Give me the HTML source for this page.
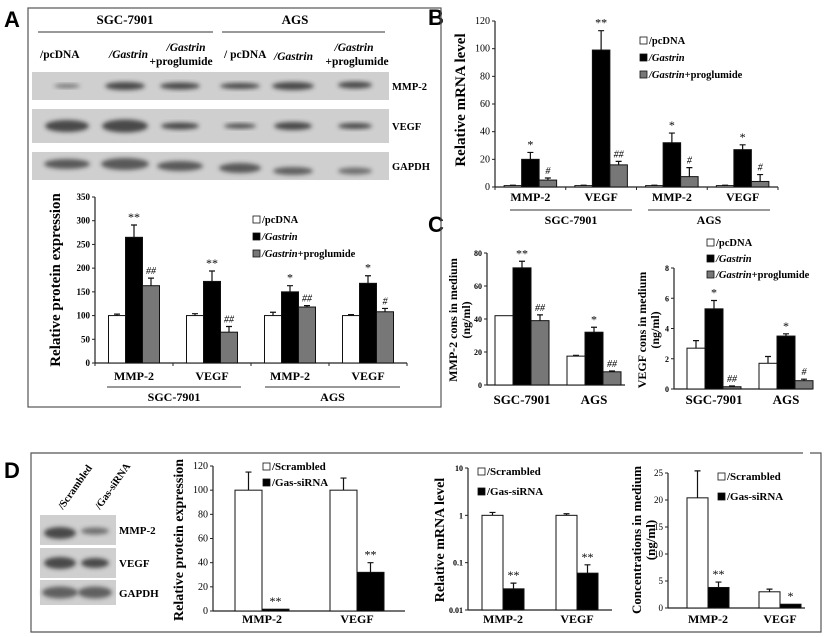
<!DOCTYPE html>
<html><head><meta charset="utf-8">
<style>
html,body{margin:0;padding:0;background:#fff;}
svg{display:block;font-family:"Liberation Serif",serif;font-weight:bold;}
</style></head>
<body>
<svg id="fig" width="825" height="637" viewBox="0 0 825 637" xmlns="http://www.w3.org/2000/svg">
<defs>
<filter id="blur" x="-20%" y="-50%" width="140%" height="200%"><feGaussianBlur stdDeviation="2"/></filter>
</defs>
<text x="4" y="27" font-family="Liberation Sans" font-size="22" font-weight="bold">A</text>
<text x="428" y="25" font-family="Liberation Sans" font-size="22" font-weight="bold">B</text>
<text x="428" y="232" font-family="Liberation Sans" font-size="22" font-weight="bold">C</text>
<text x="4" y="478" font-family="Liberation Sans" font-size="22" font-weight="bold">D</text>
<rect x="28" y="8" width="413" height="399" fill="none" stroke="#555" stroke-width="1.2"/>
<path d="M803 453 H31 V632 H821 V453 H810" fill="none" stroke="#555" stroke-width="1.2"/>
<g id="blots"></g>
<g id="charts"></g>
</svg>
<script>
// ---------- DATA ----------
const aCategories = ["MMP-2","VEGF","MMP-2","VEGF"];
const aPcdna = [100,100,100,100];
const aPcdnaErr = [3,4,7,2];
const aGastrin = [265,172,150,168];
const aGastrinErr = [26,22,13,16];
const aProg = [163,65,118,108];
const aProgErr = [16,12,3,7];
const aGastrinMarks = ["**","**","*","*"];
const aProgMarks = ["##","##","##","#"];
const aTicks = [0,50,100,150,200,250,300,350];

const bCategories = ["MMP-2","VEGF","MMP-2","VEGF"];
const bPcdna = [1,1,1,1];
const bPcdnaErr = [0.3,0.3,0.3,0.3];
const bGastrin = [20,99,32,27];
const bGastrinErr = [5,14,7,3.5];
const bProg = [5,16,7.5,4];
const bProgErr = [1.5,2.5,6.5,5];
const bGastrinMarks = ["*","**","*","*"];
const bProgMarks = ["#","##","#","#"];
const bTicks = [0,20,40,60,80,100,120];

const c1Categories = ["SGC-7901","AGS"];
const c1Pcdna = [42,17.5];
const c1PcdnaErr = [0,0.5];
const c1Gastrin = [71,32];
const c1GastrinErr = [4,3];
const c1Prog = [39,8];
const c1ProgErr = [3.5,0.5];
const c1GastrinMarks = ["**","*"];
const c1ProgMarks = ["##","##"];
const c1Ticks = [0,20,40,60,80];

const c2Categories = ["SGC-7901","AGS"];
const c2Pcdna = [2.7,1.7];
const c2PcdnaErr = [0.5,0.45];
const c2Gastrin = [5.3,3.5];
const c2GastrinErr = [0.55,0.15];
const c2Prog = [0.15,0.55];
const c2ProgErr = [0.05,0.1];
const c2GastrinMarks = ["*","*"];
const c2ProgMarks = ["##","#"];
const c2Ticks = [0,2,4,6,8];

const d1Categories = ["MMP-2","VEGF"];
const d1Scr = [100,100];
const d1ScrErr = [15,10];
const d1Si = [1.5,32];
const d1SiErr = [0,8];
const d1SiMarks = ["**","**"];
const d1Ticks = [0,20,40,60,80,100,120];

const d2Categories = ["MMP-2","VEGF"];
const d2Scr = [1,1];
const d2ScrErr = [0.15,0.08];
const d2Si = [0.028,0.06];
const d2SiErr = [0.009,0.03];
const d2SiMarks = ["**","**"];
const d2Ticks = [0.01,0.1,1,10];
const d2TickLabels = ["0.01","0.1","1","10"];

const d3Categories = ["MMP-2","VEGF"];
const d3Scr = [20.4,3];
const d3ScrErr = [5,0.5];
const d3Si = [3.8,0.7];
const d3SiErr = [1,0];
const d3SiMarks = ["**","*"];
const d3Ticks = [0,5,10,15,20,25];

// ---------- HELPERS ----------
const NS = "http://www.w3.org/2000/svg";
const charts = document.getElementById("charts");
const blots = document.getElementById("blots");
function mk(parent, tag, attrs, text){
  const e = document.createElementNS(NS, tag);
  for (const k in attrs) e.setAttribute(k, attrs[k]);
  if (text !== undefined) e.textContent = text;
  parent.appendChild(e);
  return e;
}
function txt(parent, x, y, s, size, anchor, name, extra){
  const t = mk(parent, "text", Object.assign({x:x, y:y, "font-size":size, "text-anchor":anchor||"start"}, extra||{}), s);
  
  
  return t;
}

function barChart(c){
  const g = mk(charts, "g", {});
  
  
  const yScale = c.log
    ? v => c.y0 - (Math.log10(v) - Math.log10(c.yMin)) / (Math.log10(c.yMax) - Math.log10(c.yMin)) * (c.y0 - c.yTop)
    : v => c.y0 - v / c.yMax * (c.y0 - c.yTop);
  const xBand = i => c.bandStart + c.bandStep * (i + 0.5);
  const ya = mk(g, "line", {x1:c.ax, y1:c.yTop, x2:c.ax, y2:c.y0, stroke:"#222", "stroke-width":1.2});
  
  
  const xa = mk(g, "line", {x1:c.ax, y1:c.y0, x2:c.axEnd, y2:c.y0, stroke:"#222", "stroke-width":1.2});
  
  
  c.ticks.forEach((t, i) => {
    const y = yScale(t);
    const tk = mk(g, "line", {x1:c.ax-3, y1:y, x2:c.ax, y2:y, stroke:"#222", "stroke-width":1});
    
    
    txt(g, c.ax-5, y+3, c.tickLabels ? c.tickLabels[i] : String(t), c.tickSize||9, "end", "y-tick-label", {"font-weight": c.tickBold===false?"normal":"bold"});
  });
  if (c.xTicks){
    for (let i=0;i<=c.cats.length;i++){
      const x = c.bandStart + c.bandStep*i;
      const tk = mk(g,"line",{x1:x,y1:c.y0,x2:x,y2:c.y0+3,stroke:"#222","stroke-width":1});
      
      
    }
  }
  const nS = c.series.length;
  c.cats.forEach((cat, i) => {
    const cx = xBand(i);
    const start = cx - c.barW * nS / 2;
    c.series.forEach((s, j) => {
      const v = s.values[i];
      const x = start + j * c.barW;
      const yv = yScale(v);
      const base = c.y0;
      const r = mk(g, "rect", {x:x, y:yv, width:c.barW, height:Math.max(0, base-yv), fill:s.fill, stroke:"#111", "stroke-width":1});
      
      
      const e = s.errs[i];
      if (e > 0){
        const ye = yScale(v + e);
        const el = mk(g, "path", {d:`M${x+c.barW/2} ${yv} V${ye} M${x+c.barW/2-3} ${ye} H${x+c.barW/2+3}`, stroke:"#111", "stroke-width":1.2, fill:"none"});
        
        
      }
      if (s.marks && s.marks[i]){
        const ye = yScale(v + e);
        txt(g, x+c.barW/2, ye-4, s.marks[i], s.marks[i].indexOf("#")>=0?10:12, "middle", "significance-mark", {"font-weight":"normal","font-style":s.marks[i].indexOf("#")>=0?"italic":"normal"});
      }
    });
    txt(g, cx, c.catY, cat, c.catSize||12, "middle", "category-label");
  });
  c.yTitle.forEach((line, k) => {
    txt(g, c.yTitleX + k*(c.yTitleSize+1), c.yTitleY, line, c.yTitleSize, "middle", "y-axis-title", {transform:`rotate(-90 ${c.yTitleX + k*(c.yTitleSize+1)} ${c.yTitleY})`});
  });
  if (c.legend){
    c.legend.forEach((L, k) => {
      const y = c.legend.y0 + k*c.legend.dy;
      const sq = mk(g, "rect", {x:c.legend.x, y:y-7, width:7, height:7, fill:L.fill, stroke:"#111", "stroke-width":0.8});
      
      
      const t = mk(g, "text", {x:c.legend.x+9, y:y, "font-size":c.legend.size||10.5});
      
      
      L.parts.forEach(p => { mk(t, "tspan", p.it?{"font-style":"italic"}:{}, p.s); });
    });
  }
  return g;
}

const WHITE="#fff", BLACK="#000", GRAY="#777";
const legend3 = [
  {fill:WHITE, parts:[{s:"/pcDNA"}]},
  {fill:BLACK, parts:[{s:"/Gastrin",it:true}]},
  {fill:GRAY, parts:[{s:"/Gastrin",it:true},{s:"+proglumide"}]}
];
const legend2 = [
  {fill:WHITE, parts:[{s:"/Scrambled"}]},
  {fill:BLACK, parts:[{s:"/Gas-siRNA"}]}
];
function withPos(arr, x, y0, dy, size){ const a = arr.slice(); a.x=x; a.y0=y0; a.dy=dy; a.size=size; return a; }

barChart({name:"chart-a-protein", ax:95, axEnd:407, y0:363, yTop:197, yMax:350, ticks:aTicks,
  bandStart:95, bandStep:78, barW:17, cats:aCategories, catY:380, xTicks:true,
  series:[{key:"pcdna",values:aPcdna,errs:aPcdnaErr,fill:WHITE},
          {key:"gastrin",values:aGastrin,errs:aGastrinErr,fill:BLACK,marks:aGastrinMarks},
          {key:"prog",values:aProg,errs:aProgErr,fill:GRAY,marks:aProgMarks}],
  yTitle:["Relative protein expression"], yTitleX:60, yTitleY:280, yTitleSize:15,
  legend:withPos(legend3, 253, 223, 17, 10.5)});
barChart({name:"chart-b-mrna", ax:495, axEnd:778, y0:187, yTop:21, yMax:120, ticks:bTicks, tickBold:false, tickSize:10,
  bandStart:495, bandStep:70.75, barW:17.5, cats:bCategories, catY:201, xTicks:true,
  series:[{key:"pcdna",values:bPcdna,errs:bPcdnaErr,fill:WHITE},
          {key:"gastrin",values:bGastrin,errs:bGastrinErr,fill:BLACK,marks:bGastrinMarks},
          {key:"prog",values:bProg,errs:bProgErr,fill:GRAY,marks:bProgMarks}],
  yTitle:["Relative mRNA level"], yTitleX:465, yTitleY:100, yTitleSize:15,
  legend:withPos(legend3, 640, 44, 17, 10.5)});
barChart({name:"chart-c-mmp2", ax:487, axEnd:625, y0:385, yTop:253, yMax:80, ticks:c1Ticks, tickSize:8,
  bandStart:486, bandStep:72, barW:18, cats:c1Categories, catY:404, catSize:13,
  series:[{key:"pcdna",values:c1Pcdna,errs:c1PcdnaErr,fill:WHITE},
          {key:"gastrin",values:c1Gastrin,errs:c1GastrinErr,fill:BLACK,marks:c1GastrinMarks},
          {key:"prog",values:c1Prog,errs:c1ProgErr,fill:GRAY,marks:c1ProgMarks}],
  yTitle:["MMP-2 cons in medium","(ng/ml)"], yTitleX:457, yTitleY:320, yTitleSize:12});
barChart({name:"chart-c-vegf", ax:674, axEnd:812, y0:389, yTop:268, yMax:8, ticks:c2Ticks, tickSize:8,
  bandStart:678, bandStep:72, barW:18, cats:c2Categories, catY:404, catSize:13,
  series:[{key:"pcdna",values:c2Pcdna,errs:c2PcdnaErr,fill:WHITE},
          {key:"gastrin",values:c2Gastrin,errs:c2GastrinErr,fill:BLACK,marks:c2GastrinMarks},
          {key:"prog",values:c2Prog,errs:c2ProgErr,fill:GRAY,marks:c2ProgMarks}],
  yTitle:["VEGF cons in medium","(ng/ml)"], yTitleX:646, yTitleY:330, yTitleSize:12,
  legend:withPos(legend3, 707, 246, 16, 10.5)});
barChart({name:"chart-d-protein", ax:213, axEnd:405, y0:611, yTop:466, yMax:120, ticks:d1Ticks, tickBold:false, tickSize:10,
  bandStart:214.5, bandStep:95, barW:27, cats:d1Categories, catY:623,
  series:[{key:"scrambled",values:d1Scr,errs:d1ScrErr,fill:WHITE},
          {key:"sirna",values:d1Si,errs:d1SiErr,fill:BLACK,marks:d1SiMarks}],
  yTitle:["Relative protein expression"], yTitleX:183, yTitleY:540, yTitleSize:14,
  legend:withPos(legend2, 263, 470, 16, 11)});
barChart({name:"chart-d-mrna", log:true, ax:468, axEnd:612, y0:610, yTop:468, yMin:0.01, yMax:10, ticks:d2Ticks, tickLabels:d2TickLabels, tickSize:8,
  bandStart:466, bandStep:74, barW:21, cats:d2Categories, catY:623,
  series:[{key:"scrambled",values:d2Scr,errs:d2ScrErr,fill:WHITE},
          {key:"sirna",values:d2Si,errs:d2SiErr,fill:BLACK,marks:d2SiMarks}],
  yTitle:["Relative mRNA level"], yTitleX:444, yTitleY:540, yTitleSize:14,
  legend:withPos(legend2, 478, 475, 20, 11)});
barChart({name:"chart-d-medium", ax:668, axEnd:805, y0:608, yTop:473, yMax:25, ticks:d3Ticks, tickBold:false, tickSize:9,
  bandStart:672, bandStep:72, barW:21, cats:d3Categories, catY:623,
  series:[{key:"scrambled",values:d3Scr,errs:d3ScrErr,fill:WHITE},
          {key:"sirna",values:d3Si,errs:d3SiErr,fill:BLACK,marks:d3SiMarks}],
  yTitle:["Concentrations in medium","(ng/ml)"], yTitleX:641, yTitleY:540, yTitleSize:13,
  legend:withPos(legend2, 718, 480, 20, 11)});

function groupLabel(x1, x2, y, label, ly){
  const l = mk(charts, "line", {x1:x1, y1:y, x2:x2, y2:y, stroke:"#333", "stroke-width":1});
  
  
  txt(charts, (x1+x2)/2, ly, label, 12, "middle", "group-label");
}
groupLabel(107, 241, 387, "SGC-7901", 401);
groupLabel(265, 400, 387, "AGS", 401);
groupLabel(510, 632, 210, "SGC-7901", 224);
groupLabel(648, 770, 210, "AGS", 224);

function strip(x, y, w, h, bands, name){
  const g = mk(blots, "g", {});
  
  
  mk(g, "rect", {x:x, y:y, width:w, height:h, fill:"#cfcfcf"});
  bands.forEach(b => {
    mk(g, "ellipse", {cx:b[0], cy:y+h/2+(b[3]||0), rx:b[1], ry:b[2], fill:"#333", opacity:b[4]||0.85, filter:"url(#blur)"});
  });
}
txt(blots, 125, 24, "SGC-7901", 13, "middle", "blot-group-sgc");
txt(blots, 295, 24, "AGS", 13, "middle", "blot-group-ags");
mk(blots, "line", {x1:38, y1:32, x2:213, y2:32, stroke:"#333"});
mk(blots, "line", {x1:222, y1:32, x2:385, y2:32, stroke:"#333"});
txt(blots, 40, 58, "/pcDNA", 11.5, "start", "lane-label");
txt(blots, 109, 58, "/Gastrin", 11.5, "start", "lane-label", {"font-style":"italic"});
txt(blots, 186, 51, "/Gastrin", 11.5, "middle", "lane-label", {"font-style":"italic"});
txt(blots, 181, 65, "+proglumide", 11.5, "middle", "lane-label");
txt(blots, 224, 58, "/ pcDNA", 11.5, "start", "lane-label");
txt(blots, 274, 60, "/Gastrin", 11.5, "start", "lane-label", {"font-style":"italic"});
txt(blots, 354, 51, "/Gastrin", 11.5, "middle", "lane-label", {"font-style":"italic"});
txt(blots, 357, 65, "+proglumide", 11.5, "middle", "lane-label");
strip(32, 72, 357, 28, [[67,13,2,0,0.6],[125,20,4],[180,20,3.5],[240,20,3],[293,21,4],[355,17,3.5,-1]], "blot-a-mmp2");
strip(32, 109, 357, 34, [[67,22,6],[125,23,6.5],[180,19,3.5],[240,16,2.5],[293,19,4],[355,17,3]], "blot-a-vegf");
strip(32, 152, 357, 28, [[67,23,5,-2,0.75],[125,24,6,-2,0.75],[180,23,5,0,0.75],[240,21,5,2,0.75],[293,20,4,5,0.7],[355,17,3.5,5,0.6]], "blot-a-gapdh");
txt(blots, 392, 90, "MMP-2", 10.5, "start", "blot-label-mmp2");
txt(blots, 392, 130, "VEGF", 10.5, "start", "blot-label-vegf");
txt(blots, 392, 170, "GAPDH", 10.5, "start", "blot-label-gapdh");
txt(blots, 63, 510, "/Scrambled", 10.5, "start", "lane-label", {transform:"rotate(-55 63 510)"});
txt(blots, 100, 510, "/Gas-siRNA", 10.5, "start", "lane-label", {transform:"rotate(-55 100 510)"});
strip(40, 515, 76, 30, [[60,16,6,3],[95,14,3.5,1,0.6]], "blot-d-mmp2");
strip(40, 548, 76, 30, [[60,16,6],[95,14,5]], "blot-d-vegf");
strip(40, 580, 76, 25, [[60,18,6,0,0.7],[95,17,6,0,0.7]], "blot-d-gapdh");
txt(blots, 119, 534, "MMP-2", 11, "start", "blot-label-mmp2");
txt(blots, 119, 567, "VEGF", 11, "start", "blot-label-vegf");
txt(blots, 119, 597, "GAPDH", 11, "start", "blot-label-gapdh");
</script>
</body></html>
